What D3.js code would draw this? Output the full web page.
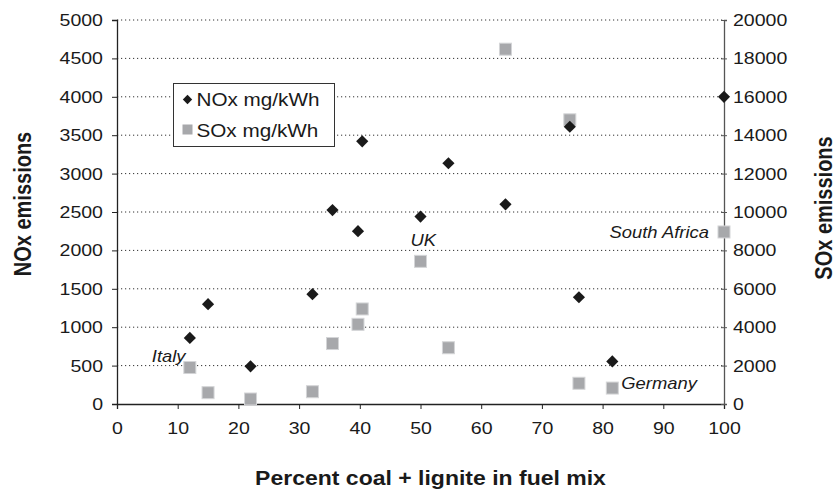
<!DOCTYPE html>
<html>
<head>
<meta charset="utf-8">
<script src="https://cdn.jsdelivr.net/npm/d3@7"></script>
<style>
  body { margin: 0; background: #fff; }
  text { font-family: "Liberation Sans", Arial, sans-serif; fill: #1a1a1a; }
</style>
</head>
<body>
<div class="chart"></div>
<script>
// Data
var pctCoal = [12, 15, 22, 32.2, 35.5, 39.7, 40.4, 50, 54.6, 64, 74.6, 76.1, 81.6, 100];
var noxValues = [860, 1300, 490, 1430, 2525, 2250, 3420, 2440, 3135, 2600, 3610, 1390, 555, 4000];
var soxValues = [1900, 590, 260, 640, 3150, 4150, 4950, 7430, 2930, 18480, 14800, 1080, 830, 8960];
var noxTicks = [0, 500, 1000, 1500, 2000, 2500, 3000, 3500, 4000, 4500, 5000];
var soxTicks = [0, 2000, 4000, 6000, 8000, 10000, 12000, 14000, 16000, 18000, 20000];
var xTicks = [0, 10, 20, 30, 40, 50, 60, 70, 80, 90, 100];
var seriesNames = ["NOx mg/kWh", "SOx mg/kWh"];
var countryNames = ["Italy", "UK", "South Africa", "Germany"];
var countryIndex = [0, 7, 13, 12];

var svgWidth = 836;
var svgHeight = 495;
var SX = 1.15; // text in the source is a bit wide

var margin = { top: 20, right: 112, bottom: 91, left: 117 };
var width = svgWidth - margin.left - margin.right;
var height = svgHeight - margin.top - margin.bottom;

var svg = d3.select(".chart").append("svg")
  .attr("width", svgWidth)
  .attr("height", svgHeight);

var chartGroup = svg.append("g")
  .attr("transform", `translate(${margin.left}, ${margin.top})`);

var xScale = d3.scaleLinear().domain([0, 100]).range([0, width]);
var yLeft = d3.scaleLinear().domain([0, 5000]).range([height, 0]);
var yRight = d3.scaleLinear().domain([0, 20000]).range([height, 0]);
var fmt = d3.format("d");

// stretch a text horizontally around its anchor
function stretch(sel) {
  sel.each(function () {
    var t = d3.select(this);
    var x = +t.attr("x") || 0;
    var y = +t.attr("y") || 0;
    t.attr("x", null).attr("y", null)
      .attr("transform", `translate(${x},${y}) scale(${SX},1)`);
  });
}

// dotted gridlines
chartGroup.append("g")
  .selectAll("line")
  .data(noxTicks.slice(1))
  .enter()
  .append("line")
  .attr("x1", 0)
  .attr("x2", width)
  .attr("y1", (d) => yLeft(d))
  .attr("y2", (d) => yLeft(d))
  .attr("stroke", "#333")
  .attr("stroke-width", 1)
  .attr("stroke-dasharray", "1.2,2.8");

// left axis
var leftAxis = chartGroup.append("g")
  .call(d3.axisLeft(yLeft).tickValues(noxTicks).tickFormat(fmt).tickSize(5).tickPadding(9));
leftAxis.select(".domain").attr("stroke", "#222").attr("stroke-width", 1.3);
leftAxis.selectAll(".tick line").attr("stroke", "#222");
leftAxis.selectAll("text").attr("font-size", "17px").attr("fill", "#1a1a1a").call(stretch);

// bottom axis
var bottomAxis = chartGroup.append("g")
  .attr("transform", `translate(0, ${height})`)
  .call(d3.axisBottom(xScale).tickValues(xTicks).tickFormat(fmt).tickSize(5).tickPadding(13));
bottomAxis.select(".domain").attr("stroke", "#222").attr("stroke-width", 1.3);
bottomAxis.selectAll(".tick line").attr("stroke", "#222");
bottomAxis.selectAll("text").attr("font-size", "17px").attr("fill", "#1a1a1a").call(stretch);

// right axis, ticks cross the line
var rightAxis = chartGroup.append("g")
  .attr("transform", `translate(${width}, 0)`)
  .call(d3.axisRight(yRight).tickValues(soxTicks).tickFormat(fmt).tickSize(3).tickPadding(6));
rightAxis.select(".domain").attr("stroke", "#555").attr("stroke-width", 1.3);
rightAxis.selectAll(".tick line").attr("x1", -3).attr("stroke", "#555");
rightAxis.selectAll("text").attr("font-size", "17px").attr("fill", "#1a1a1a").call(stretch);

// SOx squares
var sq = 12;
chartGroup.append("g")
  .selectAll("rect")
  .data(pctCoal)
  .enter()
  .append("rect")
  .attr("x", (d) => xScale(d) - sq / 2)
  .attr("y", (d, i) => yRight(soxValues[i]) - sq / 2)
  .attr("width", sq)
  .attr("height", sq)
  .attr("fill", "#a7a8ab")
  .attr("stroke", "#d4d5d7")
  .attr("stroke-width", 1);

// NOx diamonds
var diamond = d3.symbol().type(d3.symbolSquare).size(74);
chartGroup.append("g")
  .selectAll("path")
  .data(pctCoal)
  .enter()
  .append("path")
  .attr("d", diamond)
  .attr("transform", (d, i) => `translate(${xScale(d)}, ${yLeft(noxValues[i])}) rotate(45)`)
  .attr("fill", "#1a1a1a");

// country notes
var noteOffsets = {
  "Italy": { dx: -38, dy: -6, anchor: "start", series: "sox" },
  "UK": { dx: -10, dy: 29, anchor: "start", series: "nox" },
  "South Africa": { dx: -15, dy: 6, anchor: "end", series: "sox" },
  "Germany": { dx: 9, dy: 1, anchor: "start", series: "sox" }
};
chartGroup.append("g")
  .selectAll("text")
  .data(countryNames)
  .enter()
  .append("text")
  .attr("x", (d, i) => xScale(pctCoal[countryIndex[i]]) + noteOffsets[d].dx)
  .attr("y", (d, i) => {
    var k = countryIndex[i];
    var base = noteOffsets[d].series === "sox" ? yRight(soxValues[k]) : yLeft(noxValues[k]);
    return base + noteOffsets[d].dy;
  })
  .attr("text-anchor", (d) => noteOffsets[d].anchor)
  .attr("font-size", "16px")
  .attr("font-style", "italic")
  .text((d) => d)
  .call(stretch);

// legend
var legend = svg.append("g").attr("transform", "translate(173.5, 83.5)");
legend.append("rect")
  .attr("width", 161)
  .attr("height", 63)
  .attr("fill", "#fff")
  .attr("stroke", "#333")
  .attr("stroke-width", 1);
legend.append("path")
  .attr("d", d3.symbol().type(d3.symbolSquare).size(44))
  .attr("transform", "translate(14, 16) rotate(45)")
  .attr("fill", "#1a1a1a");
legend.append("rect")
  .attr("x", 9).attr("y", 41)
  .attr("width", 10).attr("height", 10)
  .attr("fill", "#a7a8ab");
legend.selectAll(".legText")
  .data(seriesNames)
  .enter()
  .append("text")
  .attr("class", "legText")
  .attr("x", 23)
  .attr("y", (d, i) => 22.5 + i * 31)
  .attr("font-size", "18px")
  .text((d) => d)
  .call(stretch);

// axis titles
svg.append("text")
  .attr("text-anchor", "middle")
  .attr("font-size", "20px")
  .attr("font-weight", "bold")
  .attr("transform", `translate(31, ${margin.top + height / 2 - 8}) scale(${SX},1) rotate(-90)`)
  .text("NOx emissions");

svg.append("text")
  .attr("text-anchor", "middle")
  .attr("font-size", "20px")
  .attr("font-weight", "bold")
  .attr("transform", `translate(832, ${margin.top + height / 2 - 4}) scale(${SX},1) rotate(-90)`)
  .text("SOx emissions");

svg.append("text")
  .attr("text-anchor", "middle")
  .attr("font-size", "20px")
  .attr("font-weight", "bold")
  .attr("transform", `translate(${margin.left + width / 2 + 10}, 485) scale(${SX},1)`)
  .text("Percent coal + lignite in fuel mix");
</script>
</body>
</html>
